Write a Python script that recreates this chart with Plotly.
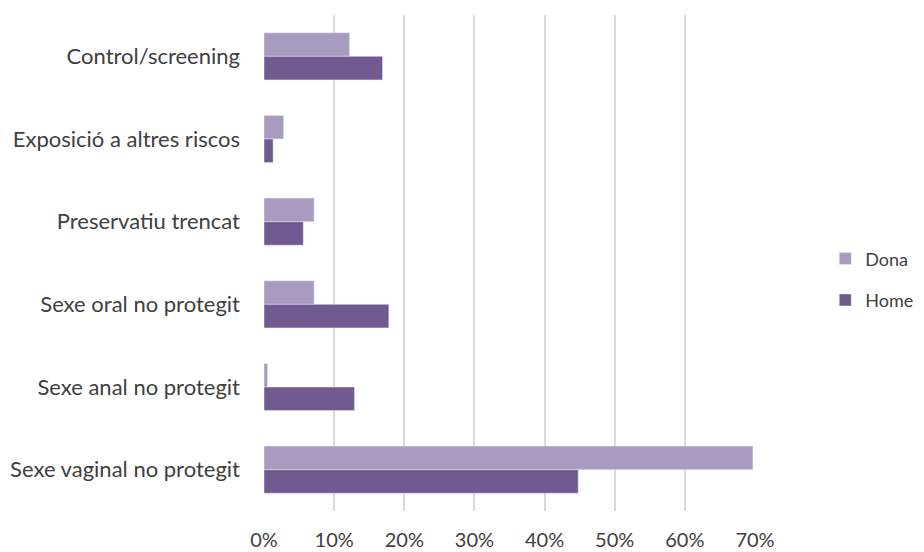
import plotly.graph_objects as go

categories = ["Control/screening", "Exposició a altres riscos", "Preservatiu trencat",
              "Sexe oral no protegit", "Sexe anal no protegit", "Sexe vaginal no protegit"]
dona = [0.122, 0.028, 0.0715, 0.0715, 0.005, 0.697]
home = [0.169, 0.013, 0.056, 0.178, 0.129, 0.448]
tick_vals = [0, 0.1, 0.2, 0.3, 0.4, 0.5, 0.6, 0.7]

fig = go.Figure()
fig.add_trace(go.Bar(y=categories, x=dona, name="Dona", orientation="h",
                     legendgroup="d", marker=dict(color="#A99BBF")))
fig.add_trace(go.Bar(y=categories, x=home, name="Home", orientation="h",
                     legendgroup="h", marker=dict(color="#715A8F")))

fig.update_layout(
    width=916, height=544,
    margin=dict(l=256, r=169, t=7, b=41, autoexpand=False),
    barmode="group", bargap=0.43, bargroupgap=0,
    plot_bgcolor="white", paper_bgcolor="white",
    font=dict(family="Lato", size=22, color="#404040"),
    legend=dict(x=1.143, y=0.467, xanchor="left", yanchor="middle",
                font=dict(size=18, color="#404040"), traceorder="grouped",
                itemwidth=30, tracegroupgap=15),
    xaxis=dict(range=[0, 0.7], tickvals=tick_vals, tickformat=".0%",
               showgrid=True, gridcolor="#D9D9D9", gridwidth=1.5,
               zeroline=False, showline=False, ticks="",
               ticklabelstandoff=15, automargin=False,
               tickfont=dict(size=20, color="#404040")),
    yaxis=dict(autorange="reversed", showgrid=False, zeroline=False,
               showline=False, ticks="", ticklabelstandoff=23, automargin=False,
               tickfont=dict(size=22, color="#404040")),
)

fig.write_html("out.html")
